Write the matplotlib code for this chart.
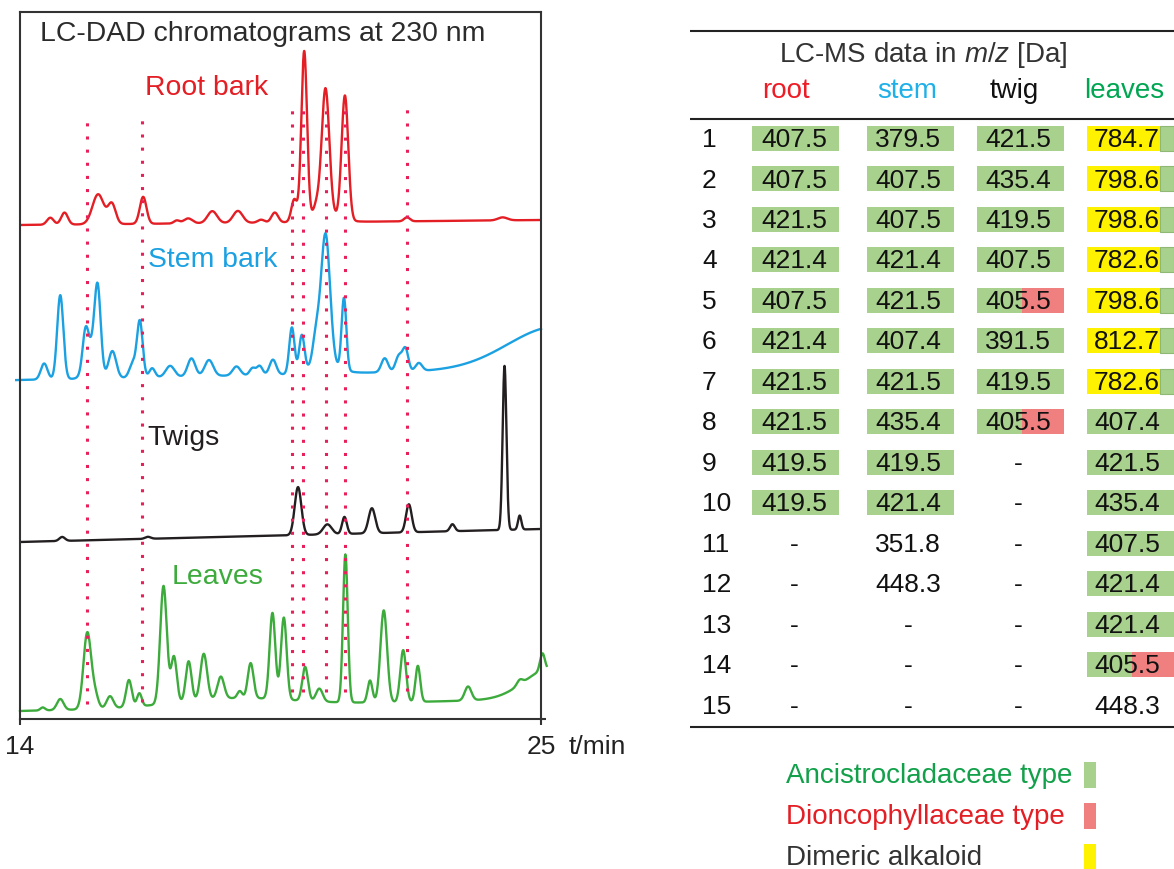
"""
LC-DAD chromatograms (230 nm) of four plant parts next to the LC-MS m/z table.
"""
import matplotlib
matplotlib.use('Agg')
import matplotlib.pyplot as plt
from matplotlib.patches import Rectangle
import numpy as np

plt.rcParams['font.family'] = ['Liberation Sans', 'DejaVu Sans']
plt.rcParams['mathtext.fontset'] = 'custom'
plt.rcParams['mathtext.rm'] = 'Liberation Sans'
plt.rcParams['mathtext.it'] = 'Liberation Sans:italic'

# ---- chromatogram peak lists: (retention time [min], height, sigma [min]) ----
# baselines are (signal at 14 min, signal at 25 min), traces stacked in one axis
root_base = (494, 499)
root_peaks = [(14.64, 7, 0.07), (14.94, 12, 0.07), (15.65, 30, 0.12), (15.94, 20, 0.08),
              (16.60, 27, 0.07), (17.31, 3, 0.06), (17.55, 5, 0.09), (18.06, 12, 0.10),
              (18.60, 12, 0.10), (19.09, 3, 0.07), (19.38, 10, 0.07), (19.79, 22, 0.06),
              (20.00, 168, 0.06), (20.26, 10, 0.06), (20.45, 126, 0.08), (20.86, 124, 0.07),
              (20.40, 8, 0.30), (22.17, 4, 0.06), (24.19, 3, 0.10)]

stem_base = (339, 350)
stem_peaks = [(14.51, 16, 0.07), (14.85, 84, 0.065), (15.38, 33, 0.06), (15.50, 30, 0.12),
              (15.64, 80, 0.065), (15.95, 27, 0.08), (16.38, 14, 0.07), (16.53, 56, 0.06),
              (16.79, 9, 0.06), (17.17, 11, 0.09), (17.62, 18, 0.08), (17.99, 16, 0.09),
              (18.57, 9, 0.08), (18.91, 7, 0.06), (19.06, 9, 0.06), (19.34, 15, 0.07),
              (19.74, 46, 0.055), (19.95, 36, 0.055), (20.25, 28, 0.07), (20.45, 130, 0.095),
              (20.84, 72, 0.05), (20.40, 10, 0.30), (21.70, 14, 0.07), (22.00, 16, 0.07),
              (22.14, 22, 0.06), (22.42, 8, 0.07), (25.30, 42, 1.0)]

twig_base = (177, 190)
twig_peaks = [(14.89, 4, 0.06), (16.70, 2, 0.06), (19.87, 48, 0.07), (20.49, 10, 0.09),
              (20.85, 17, 0.05), (21.43, 25, 0.07), (22.21, 28, 0.06), (23.13, 7, 0.05),
              (24.23, 164, 0.04), (24.55, 14, 0.035)]

leaf_base = (8, 20)
leaf_peaks = [(14.48, 3, 0.05), (14.85, 11, 0.07), (15.42, 76, 0.08), (15.58, 14, 0.07),
              (15.90, 12, 0.07), (16.30, 27, 0.06), (16.52, 13, 0.05), (17.03, 118, 0.07),
              (17.25, 46, 0.06), (17.56, 40, 0.06), (17.88, 46, 0.07), (18.24, 22, 0.07),
              (18.64, 7, 0.05), (18.87, 35, 0.06), (19.33, 86, 0.06), (19.57, 82, 0.06),
              (20.02, 34, 0.06), (20.32, 13, 0.07), (20.87, 148, 0.05), (21.39, 22, 0.05),
              (21.68, 92, 0.07), (22.09, 52, 0.06), (22.40, 36, 0.05), (23.46, 14, 0.07),
              (24.55, 5, 0.06), (25.03, 17, 0.05), (25.20, 30, 0.55), (18.50, 8, 1.2)]

# retention times marked by dotted lines, with their vertical extent
marked_rt = [15.415, 16.58, 19.74, 19.97, 20.455, 20.86, 22.165]
marked_top = [599, 602, 610, 610, 610, 610, 614]
marked_bottom = [15, 17, 27, 27, 27, 27, 28]

# ---- LC-MS table ----
row_ids = [str(i) for i in range(1, 16)]
col_names = ['root', 'stem', 'twig', 'leaves']
root_mz = ['407.5', '407.5', '421.5', '421.4', '407.5', '421.4', '421.5', '421.5',
           '419.5', '419.5', '-', '-', '-', '-', '-']
stem_mz = ['379.5', '407.5', '407.5', '421.4', '421.5', '407.4', '421.5', '435.4',
           '419.5', '421.4', '351.8', '448.3', '-', '-', '-']
twig_mz = ['421.5', '435.4', '419.5', '407.5', '405.5', '391.5', '419.5', '405.5',
           '-', '-', '-', '-', '-', '-', '-']
leaf_mz = ['784.7', '798.6', '798.6', '782.6', '798.6', '812.7', '782.6', '407.4',
           '421.5', '435.4', '407.5', '421.4', '421.4', '405.5', '448.3']
# A = Ancistrocladaceae type, D = Dioncophyllaceae type, M = dimeric alkaloid
root_type = ['A'] * 10 + [''] * 5
stem_type = ['A'] * 10 + [''] * 5
twig_type = ['A', 'A', 'A', 'A', 'D', 'A', 'A', 'D'] + [''] * 7
leaf_type = ['M'] * 7 + ['A'] * 6 + ['D', '']
legend_labels = ['Ancistrocladaceae type', 'Dioncophyllaceae type', 'Dimeric alkaloid']

GREEN_BOX = '#a9d18e'
RED_BOX = '#f08080'
YELLOW_BOX = '#fff200'


def trace(t, base, peaks):
    """baseline drift plus gaussian peaks"""
    y = base[0] + (base[1] - base[0]) * (t - 14) / 11
    for rt, h, w in peaks:
        y = y + h * np.exp(-0.5 * ((t - rt) / w) ** 2)
    return y


fig = plt.figure(figsize=(11.74, 8.70), dpi=100)

# overlay axis in pixel coordinates for table, legend and labels
ov = fig.add_axes([0, 0, 1, 1])
ov.set_xlim(0, 1174)
ov.set_ylim(870, 0)
ov.axis('off')

# chromatogram axis
ax = fig.add_axes([20 / 1174, 150 / 870, 521 / 1174, 707 / 870])
ax.set_facecolor('none')
ax.set_xlim(14, 25)
ax.set_ylim(0, 707)

t = np.linspace(14, 25, 3000)
t_stem = np.linspace(13.92, 25, 3000)
t_leaf = np.linspace(14, 25.12, 3000)
ax.plot(t, trace(t, root_base, root_peaks), color='#e31e24', lw=1.7)
ax.plot(t_stem, trace(t_stem, stem_base, stem_peaks), color='#1ba1e2', lw=1.7, clip_on=False)
ax.plot(t, trace(t, twig_base, twig_peaks), color='#231f20', lw=1.7)
ax.plot(t_leaf, trace(t_leaf, leaf_base, leaf_peaks), color='#3cab3c', lw=1.7, clip_on=False)
ax.vlines(marked_rt, marked_bottom, marked_top, colors='#e8205a', lw=2.2,
          linestyles=(0, (1, 3.3)), zorder=4)

for side in ['left', 'right', 'top', 'bottom']:
    ax.spines[side].set_linewidth(1.5)
    ax.spines[side].set_color('#333333')
ax.set_yticks([])
ax.set_xticks([14, 25])
ax.set_xticklabels(['14', '25'], fontsize=19, color='#222222')
ax.tick_params(axis='x', direction='out', length=4, width=1.5, color='#333333', pad=7)
# bottom axis line runs a little past the frame
ov.plot([541, 546], [720, 720], color='#333333', lw=1.5, solid_capstyle='butt')

ov.text(569, 747, 't/min', fontsize=19, color='#222222', va='center', ha='left')
ov.text(40, 34, 'LC-DAD chromatograms at 230 nm', fontsize=20.4, color='#2b2b2b', va='center')
ov.text(145, 88, 'Root bark', fontsize=20.4, color='#e31e24', va='center')
ov.text(148, 260, 'Stem bark', fontsize=20.4, color='#1ba1e2', va='center')
ov.text(147, 438, 'Twigs', fontsize=20.4, color='#231f20', va='center')
ov.text(172, 577, 'Leaves', fontsize=20.4, color='#3cab3c', va='center')

# ---- table ----
for yy in [32, 120, 728]:
    ov.plot([690, 1174], [yy, yy], color='#222222', lw=1.5, solid_capstyle='butt')
ov.text(923, 55, 'LC-MS data in $m/z$ [Da]', fontsize=20, color='#333333', ha='center', va='center')
head_colors = ['#ee1c25', '#1fb0e8', '#111111', '#00a651']
head_x = [786, 907, 1014, 1124]
for name, c, hx in zip(col_names, head_colors, head_x):
    ov.text(hx, 91, name, fontsize=20, color=c, ha='center', va='center')

box_left = [752, 867, 977, 1087]
box_w = 87
box_h = 25
text_x = [794, 908, 1018, 1127]
columns = [(root_mz, root_type), (stem_mz, stem_type), (twig_mz, twig_type), (leaf_mz, leaf_type)]

for i, rid in enumerate(row_ids):
    yc = 140 + 40.5 * i
    ov.text(702, yc, rid, fontsize=19, color='#111111', ha='left', va='center')
    for (vals, types), bx, tx in zip(columns, box_left, text_x):
        kind = types[i]
        top = yc - box_h / 2 - 1
        if kind == 'A':
            ov.add_patch(Rectangle((bx, top), box_w, box_h, color=GREEN_BOX, lw=0))
        elif kind == 'D':
            ov.add_patch(Rectangle((bx, top), 45, box_h, color=GREEN_BOX, lw=0))
            ov.add_patch(Rectangle((bx + 45, top), box_w - 45, box_h, color=RED_BOX, lw=0))
        elif kind == 'M':
            ov.add_patch(Rectangle((bx, top), 73, box_h, color=YELLOW_BOX, lw=0))
            ov.add_patch(Rectangle((bx + 73, top), box_w - 73, box_h, facecolor=GREEN_BOX,
                                   edgecolor='#8fb874', lw=0.8))
        ov.text(tx, yc, vals[i], fontsize=19, color='#111111', ha='center', va='center')

# ---- legend ----
leg_colors = ['#12a04a', '#e31e24', '#333333']
leg_boxes = [GREEN_BOX, RED_BOX, YELLOW_BOX]
for j, (lab, tc, bc) in enumerate(zip(legend_labels, leg_colors, leg_boxes)):
    yc = 776 + 41 * j
    ov.text(786, yc, lab, fontsize=20, color=tc, ha='left', va='center')
    ov.add_patch(Rectangle((1084, yc - 13), 12, 26, color=bc, lw=0))

fig.savefig('out.png', dpi=100)
